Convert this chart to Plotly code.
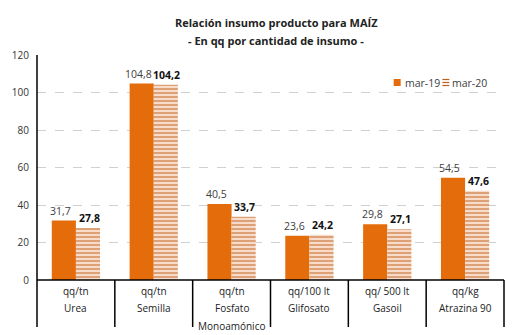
import plotly.graph_objects as go

units = ["qq/tn", "qq/tn", "qq/tn", "qq/100 lt", "qq/ 500 lt", "qq/kg"]
names = ["Urea", "Semilla", "Fosfato<br>Monoamónico", "Glifosato", "Gasoil", "Atrazina 90"]
mar19 = [31.7, 104.8, 40.5, 23.6, 29.8, 54.5]
mar20 = [27.8, 104.2, 33.7, 24.2, 27.1, 47.6]
yticks = [0, 20, 40, 60, 80, 100, 120]
series_names = ["mar-19", "mar-20"]

W, H = 518, 335
ML, MR, MT, MB = 34, 14, 55, 55
PW, PH = W - ML - MR, H - MT - MB
n = len(names)
xs = list(range(n))
BARGAP = 0.38
FONT = "Open Sans, Calibri, sans-serif"
ORANGE = "#E46C0A"
STRIPE = "#BF5F1E"
STRIPE_BG = "#FBE3D2"

def px(xp):
    return (xp - ML) / PW

def py(yp):
    return (H - MB - yp) / PH

def fmt(v):
    return f"{v:.1f}".replace(".", ",")

fig = go.Figure()
fig.add_trace(go.Bar(
    x=xs, y=mar19, name=series_names[0],
    marker=dict(color=ORANGE, line=dict(width=0)),
))
fig.add_trace(go.Bar(
    x=xs, y=mar20, name=series_names[1],
    marker=dict(color=STRIPE_BG, line=dict(width=0),
                pattern=dict(shape="-", fgcolor=STRIPE, bgcolor=STRIPE_BG, size=4, solidity=0.55)),
))

half_bar = PW / n * (1 - BARGAP) / 4  # pixel offset of each bar centre from category centre

annotations = []
for i in range(n):
    annotations.append(dict(x=xs[i], y=mar19[i], xref="x", yref="y", text=fmt(mar19[i]),
                            showarrow=False, yanchor="bottom", xanchor="center",
                            xshift=-half_bar - 3, yshift=1,
                            font=dict(family=FONT, size=10.5, color="#404040")))
    annotations.append(dict(x=xs[i], y=mar20[i], xref="x", yref="y", text="<b>" + fmt(mar20[i]) + "</b>",
                            showarrow=False, yanchor="bottom", xanchor="center",
                            xshift=half_bar + 1, yshift=1,
                            font=dict(family=FONT, size=10.5, color="#111")))

shapes = []
for i in range(n + 1):
    shapes.append(dict(type="line", xref="paper", yref="paper",
                       x0=i / n, x1=i / n, y0=0, y1=py(327),
                       line=dict(color="black", width=1.5)))
shapes.append(dict(type="line", xref="paper", yref="paper", x0=0, x1=1, y0=0, y1=0,
                   line=dict(color="black", width=1.5)))
shapes.append(dict(type="line", xref="paper", yref="paper", x0=0, x1=0, y0=0, y1=1,
                   line=dict(color="black", width=1.5)))

for i in range(n):
    annotations.append(dict(x=xs[i], y=0, xref="x", yref="paper", text=units[i], showarrow=False,
                            yanchor="middle", yshift=-11,
                            font=dict(family=FONT, size=10, color="#222")))
    for k, p in enumerate(names[i].split("<br>")):
        annotations.append(dict(x=xs[i], y=0, xref="x", yref="paper", text=p, showarrow=False,
                                yanchor="middle", yshift=-28 - 18 * k,
                                font=dict(family=FONT, size=10, color="#222")))

annotations.append(dict(x=px(275), y=py(23), xref="paper", yref="paper",
                        xanchor="center", yanchor="middle", showarrow=False,
                        text="<b>Relación insumo producto para MAÍZ</b>",
                        font=dict(family=FONT, size=11, color="#222")))
annotations.append(dict(x=px(275), y=py(40), xref="paper", yref="paper",
                        xanchor="center", yanchor="middle", showarrow=False,
                        text="<b>- En qq por cantidad de insumo -</b>",
                        font=dict(family=FONT, size=11, color="#222")))

# legend (manual)
shapes.append(dict(type="rect", xref="paper", yref="paper",
                   x0=px(393), x1=px(400), y0=py(86), y1=py(79),
                   fillcolor=ORANGE, line=dict(width=0)))
for yy in (79.5, 82.5, 85.5):
    shapes.append(dict(type="line", xref="paper", yref="paper",
                       x0=px(442), x1=px(449), y0=py(yy), y1=py(yy),
                       line=dict(color=STRIPE, width=1.2)))
annotations.append(dict(x=px(402), y=py(83), xref="paper", yref="paper", xanchor="left",
                        yanchor="middle", showarrow=False, text=series_names[0],
                        font=dict(family=FONT, size=10.5, color="#404040")))
annotations.append(dict(x=px(450), y=py(83), xref="paper", yref="paper", xanchor="left",
                        yanchor="middle", showarrow=False, text=series_names[1],
                        font=dict(family=FONT, size=10.5, color="#404040")))

fig.update_layout(
    width=W, height=H,
    margin=dict(l=ML, r=MR, t=MT, b=MB, pad=0),
    paper_bgcolor="white", plot_bgcolor="white",
    barmode="group", bargap=BARGAP, bargroupgap=0,
    showlegend=False,
    xaxis=dict(range=[-0.5, n - 0.5], showticklabels=False, showgrid=False, zeroline=False,
               showline=False, ticks=""),
    yaxis=dict(range=[0, 120], tickvals=yticks, showgrid=True, gridcolor="#d0d0d0",
               griddash="dash", gridwidth=1, zeroline=False, showline=False, ticks="",
               ticklabelstandoff=7,
               tickfont=dict(family=FONT, size=10, color="#333")),
    shapes=shapes, annotations=annotations,
    font=dict(family=FONT),
)

fig.write_html("out.html")
